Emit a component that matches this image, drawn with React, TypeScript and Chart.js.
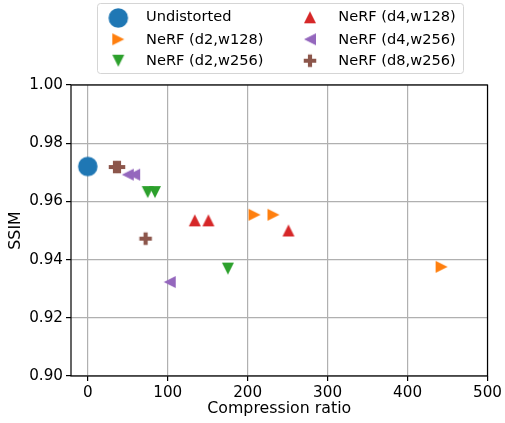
import React, { useEffect, useRef } from "react";
import { Chart, registerables } from "chart.js";

Chart.register(...registerables);

// ---- Data ----
const seriesNames = [
  "Undistorted",
  "NeRF (d2,w128)",
  "NeRF (d2,w256)",
  "NeRF (d4,w128)",
  "NeRF (d4,w256)",
  "NeRF (d8,w256)",
];
const seriesColors = ["#1f77b4", "#ff7f0e", "#2ca02c", "#d62728", "#9467bd", "#8c564b"];
const seriesShapes = ["circle", "right", "down", "up", "left", "plus"];

const undistortedX = [0];
const undistortedY = [0.972];
const d2w128X = [208.6, 232.3, 442.6];
const d2w128Y = [0.9554, 0.9554, 0.9375];
const d2w256X = [75, 84, 175.3];
const d2w256Y = [0.9632, 0.9632, 0.9369];
const d4w128X = [133.8, 150.9, 251];
const d4w128Y = [0.9535, 0.9535, 0.95];
const d4w256X = [50, 58, 102.5];
const d4w256Y = [0.9692, 0.9692, 0.9323];
const d8w256X = [34, 39, 72.3];
const d8w256Y = [0.9718, 0.9718, 0.9472];

const seriesX = [undistortedX, d2w128X, d2w256X, d4w128X, d4w256X, d8w256X];
const seriesY = [undistortedY, d2w128Y, d2w256Y, d4w128Y, d4w256Y, d8w256Y];

const xTicks = [0, 100, 200, 300, 400, 500];
const yTicks = [0.9, 0.92, 0.94, 0.96, 0.98, 1.0];
const xLabel = "Compression ratio";
const yLabel = "SSIM";

const FONT = "'DejaVu Sans', sans-serif";

function makeMarker(shape: string, color: string, size: number): HTMLCanvasElement {
  const pad = 2;
  let dim = Math.ceil(size) + pad * 2;
  if (dim % 2) dim += 1;
  const c = document.createElement("canvas");
  c.width = dim;
  c.height = dim;
  const ctx = c.getContext("2d")!;
  const cx = dim / 2;
  const cy = dim / 2;
  const h = size / 2;
  ctx.fillStyle = color;
  ctx.beginPath();
  if (shape === "circle") {
    ctx.arc(cx, cy, h, 0, Math.PI * 2);
  } else if (shape === "up") {
    ctx.moveTo(cx, cy - h);
    ctx.lineTo(cx + h, cy + h);
    ctx.lineTo(cx - h, cy + h);
  } else if (shape === "down") {
    ctx.moveTo(cx, cy + h);
    ctx.lineTo(cx + h, cy - h);
    ctx.lineTo(cx - h, cy - h);
  } else if (shape === "right") {
    ctx.moveTo(cx + h, cy);
    ctx.lineTo(cx - h, cy - h);
    ctx.lineTo(cx - h, cy + h);
  } else if (shape === "left") {
    ctx.moveTo(cx - h, cy);
    ctx.lineTo(cx + h, cy - h);
    ctx.lineTo(cx + h, cy + h);
  } else if (shape === "plus") {
    const a = h / 3;
    const pts = [
      [-a, -h], [a, -h], [a, -a], [h, -a], [h, a], [a, a],
      [a, h], [-a, h], [-a, a], [-h, a], [-h, -a], [-a, -a],
    ];
    pts.forEach(([px, py], i) => (i === 0 ? ctx.moveTo(cx + px, cy + py) : ctx.lineTo(cx + px, cy + py)));
  }
  ctx.closePath();
  ctx.fill();
  return c;
}

const markerSizes: Record<string, number> = {
  circle: 19.5,
  up: 12,
  down: 12,
  left: 12,
  right: 12,
  plus: 12.5,
};

export default function App() {
  const canvasRef = useRef<HTMLCanvasElement | null>(null);

  useEffect(() => {
    if (!canvasRef.current) return;
    const markers = seriesShapes.map((s, i) => makeMarker(s, seriesColors[i], markerSizes[s]));

    const datasets = seriesNames.map((name, i) => ({
      label: name,
      data: seriesX[i].map((x, j) => ({ x, y: seriesY[i][j] })),
      pointStyle: markers[i] as any,
      backgroundColor: seriesColors[i],
      borderColor: seriesColors[i],
      pointRadius: 8,
      borderWidth: 0,
      showLine: false,
    }));

    const framePlugin = {
      id: "frame",
      afterDatasetsDraw(chart: any) {
        const { ctx, chartArea } = chart;
        ctx.save();
        ctx.strokeStyle = "#000";
        ctx.lineWidth = 1.2;
        ctx.strokeRect(chartArea.left, chartArea.top, chartArea.right - chartArea.left, chartArea.bottom - chartArea.top);
        ctx.restore();
      },
    };

    const legendPlugin = {
      id: "mplLegend",
      afterDraw(chart: any) {
        const ctx = chart.ctx as CanvasRenderingContext2D;
        ctx.save();
        const bx = 97.5, by = 3.5, bw = 366, bh = 70, r = 3;
        ctx.beginPath();
        ctx.moveTo(bx + r, by);
        ctx.lineTo(bx + bw - r, by);
        ctx.arcTo(bx + bw, by, bx + bw, by + r, r);
        ctx.lineTo(bx + bw, by + bh - r);
        ctx.arcTo(bx + bw, by + bh, bx + bw - r, by + bh, r);
        ctx.lineTo(bx + r, by + bh);
        ctx.arcTo(bx, by + bh, bx, by + bh - r, r);
        ctx.lineTo(bx, by + r);
        ctx.arcTo(bx, by, bx + r, by, r);
        ctx.closePath();
        ctx.fillStyle = "rgba(255,255,255,0.8)";
        ctx.fill();
        ctx.strokeStyle = "#d5d5d5";
        ctx.lineWidth = 1;
        ctx.stroke();

        const colMarkerX = [118.3, 310];
        const colTextX = [146, 338.3];
        const markerY = [[18, 39.3, 60.7], [17.3, 39.3, 60.7]];
        const textBase = [21, 44.2, 65.2];
        ctx.font = `14.6px ${FONT}`;
        ctx.fillStyle = "#000";
        ctx.textBaseline = "alphabetic";
        ctx.textAlign = "left";
        seriesNames.forEach((name, i) => {
          const col = Math.floor(i / 3);
          const row = i % 3;
          const m = markers[i];
          ctx.drawImage(m, colMarkerX[col] - m.width / 2, markerY[col][row] - m.height / 2);
          ctx.fillText(name, colTextX[col], textBase[row]);
        });
        ctx.restore();
      },
    };

    const chart = new Chart(canvasRef.current, {
      type: "scatter",
      data: { datasets },
      options: {
        animation: false,
        responsive: false,
        events: [],
        layout: { padding: { top: 85, right: 16, bottom: 0, left: 0 } },
        plugins: {
          legend: { display: false },
          tooltip: { enabled: false },
        },
        scales: {
          x: {
            type: "linear",
            min: -21,
            max: 500,
            afterBuildTicks: (scale: any) => {
              scale.ticks = xTicks.map((v) => ({ value: v }));
            },
            afterFit: (scale: any) => {
              scale.height = 47;
            },
            border: { display: false },
            grid: { color: "#b0b0b0", lineWidth: 1.2, tickColor: "#000", tickLength: 5, tickWidth: 1.2 },
            ticks: {
              color: "#000",
              padding: 3,
              font: { family: FONT, size: 15.2 },
              callback: (v: any) => String(v),
            },
            title: {
              display: true,
              text: xLabel,
              color: "#000",
              font: { family: FONT, size: 15.8 },
              padding: { top: 0, bottom: 5 },
            },
          },
          y: {
            type: "linear",
            min: 0.9,
            max: 1.0,
            afterBuildTicks: (scale: any) => {
              scale.ticks = yTicks.map((v) => ({ value: v }));
            },
            afterFit: (scale: any) => {
              scale.width = 71;
            },
            border: { display: false },
            grid: { color: "#b0b0b0", lineWidth: 1.2, tickColor: "#000", tickLength: 5, tickWidth: 1.2 },
            ticks: {
              color: "#000",
              padding: 3,
              font: { family: FONT, size: 15.2 },
              callback: (v: any) => Number(v).toFixed(2),
            },
            title: {
              display: true,
              text: yLabel,
              color: "#000",
              font: { family: FONT, size: 15.8 },
              padding: { top: 6, bottom: 0 },
            },
          },
        },
      },
      plugins: [framePlugin, legendPlugin],
    } as any);

    return () => chart.destroy();
  }, []);

  return (
    <div style={{ position: "absolute", left: 0, top: 0, width: 505, height: 423, background: "#fff" }}>
      <canvas ref={canvasRef} width={505} height={423} style={{ display: "block", width: 505, height: 423 }} />
    </div>
  );
}
